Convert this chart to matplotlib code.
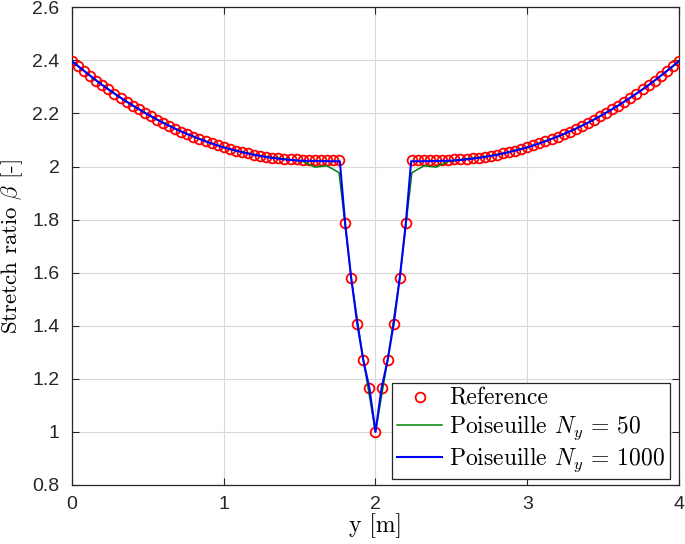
import matplotlib
matplotlib.use("Agg")
import matplotlib.pyplot as plt
import numpy as np

plt.rcParams['mathtext.fontset'] = 'cm'
plt.rcParams['font.family'] = ['Liberation Sans', 'DejaVu Sans']

# reference solution, y = 0, 0.04, ..., 4
ref_y = np.linspace(0, 4, 101)
ref_beta = [
    2.397, 2.378, 2.360, 2.342, 2.324, 2.307, 2.291, 2.275, 2.260, 2.245,
    2.230, 2.216, 2.203, 2.190, 2.177, 2.165, 2.154, 2.143, 2.132, 2.122,
    2.113, 2.104, 2.095, 2.087, 2.080, 2.073, 2.066, 2.060, 2.055, 2.050,
    2.045, 2.041, 2.037, 2.034, 2.032, 2.030, 2.028, 2.027, 2.026, 2.026,
    2.026, 2.026, 2.026, 2.026, 2.026, 1.787, 1.580, 1.407, 1.270, 1.165,
    1.000,
    1.165, 1.270, 1.407, 1.580, 1.787, 2.026, 2.026, 2.026, 2.026, 2.026,
    2.026, 2.026, 2.027, 2.028, 2.030, 2.032, 2.034, 2.037, 2.041, 2.045,
    2.050, 2.055, 2.060, 2.066, 2.073, 2.080, 2.087, 2.095, 2.104, 2.113,
    2.122, 2.132, 2.143, 2.154, 2.165, 2.177, 2.190, 2.203, 2.216, 2.230,
    2.245, 2.260, 2.275, 2.291, 2.307, 2.324, 2.342, 2.360, 2.378, 2.397,
]

# Poiseuille, Ny = 50 (step 0.08)
coarse_y = np.linspace(0, 4, 51)
coarse_beta = [
    2.397, 2.360, 2.324, 2.291, 2.260, 2.230, 2.203, 2.177, 2.154, 2.132,
    2.113, 2.095, 2.080, 2.066, 2.055, 2.045, 2.037, 2.032, 2.026, 2.020,
    1.998, 2.003, 1.977, 1.580, 1.270, 1.000,
    1.270, 1.580, 1.977, 2.003, 1.998, 2.020, 2.026, 2.032, 2.037, 2.045,
    2.055, 2.066, 2.080, 2.095, 2.113, 2.132, 2.154, 2.177, 2.203, 2.230,
    2.260, 2.291, 2.324, 2.360, 2.397,
]

# Poiseuille, Ny = 1000
fine_y = [0.0, 0.1, 0.2, 0.3, 0.4, 0.5, 0.6, 0.7, 0.8, 0.9, 1.0, 1.1, 1.2,
          1.3, 1.4, 1.5, 1.6, 1.7, 1.765, 1.8, 1.84, 1.88, 1.92, 1.96, 2.0,
          2.04, 2.08, 2.12, 2.16, 2.2, 2.235, 2.3, 2.4, 2.5, 2.6, 2.7, 2.8,
          2.9, 3.0, 3.1, 3.2, 3.3, 3.4, 3.5, 3.6, 3.7, 3.8, 3.9, 4.0]
fine_beta = [2.397, 2.351, 2.307, 2.267, 2.230, 2.196, 2.165, 2.137, 2.113,
             2.091, 2.072, 2.057, 2.044, 2.034, 2.027, 2.022, 2.021, 2.020,
             2.020, 1.787, 1.580, 1.407, 1.270, 1.165, 1.000,
             1.165, 1.270, 1.407, 1.580, 1.787, 2.020, 2.020, 2.021, 2.022,
             2.027, 2.034, 2.044, 2.057, 2.072, 2.091, 2.113, 2.137, 2.165,
             2.196, 2.230, 2.267, 2.307, 2.351, 2.397]

fig = plt.figure(figsize=(6.85, 5.44), dpi=100)
ax = fig.add_axes([0.1051, 0.1085, 0.8861, 0.878])

ax.plot(ref_y, ref_beta, 'o', mfc='none', mec='red', ms=7, mew=1.3,
        label='Reference', zorder=3)
ax.plot(coarse_y, coarse_beta, '-', color=(0, 0.5, 0), lw=1.1,
        label=r'Poiseuille $N_y$ = 50', zorder=4)
ax.plot(fine_y, fine_beta, '-', color='blue', lw=1.5,
        label=r'Poiseuille $N_y$ = 1000', zorder=5)

ax.set_xlim(0, 4)
ax.set_ylim(0.8, 2.6)
ax.set_xticks([0, 1, 2, 3, 4])
ax.set_yticks([0.8, 1, 1.2, 1.4, 1.6, 1.8, 2, 2.2, 2.4, 2.6])
ax.set_yticklabels(['0.8', '1', '1.2', '1.4', '1.6', '1.8', '2', '2.2', '2.4', '2.6'])
ax.grid(True, color='0.85', lw=0.8)
ax.set_axisbelow(True)
ax.tick_params(direction='in', length=5, width=0.8, top=True, right=True,
               labelsize=14, colors='0.15')
ax.tick_params(axis='y', pad=9)
ax.tick_params(axis='x', pad=8)
for s in ax.spines.values():
    s.set_color('0.15')
    s.set_linewidth(0.9)

ax.set_xlabel('y [m]', family='cmr10', fontsize=17, labelpad=0)
ax.set_ylabel(r'Stretch ratio $\beta$ [-]', family='cmr10', fontsize=16.5)
ax.yaxis.set_label_coords(-0.078, 0.5)

leg = ax.legend(loc='lower right', bbox_to_anchor=(0.993, 0.003),
                prop={'family': 'cmr10', 'size': 17}, fancybox=False,
                framealpha=1, edgecolor='0.15', handlelength=1.9,
                handletextpad=0.3, borderpad=0.2, labelspacing=0.15,
                borderaxespad=0.2)
leg.get_frame().set_linewidth(0.9)

fig.savefig('out.png', dpi=100)
